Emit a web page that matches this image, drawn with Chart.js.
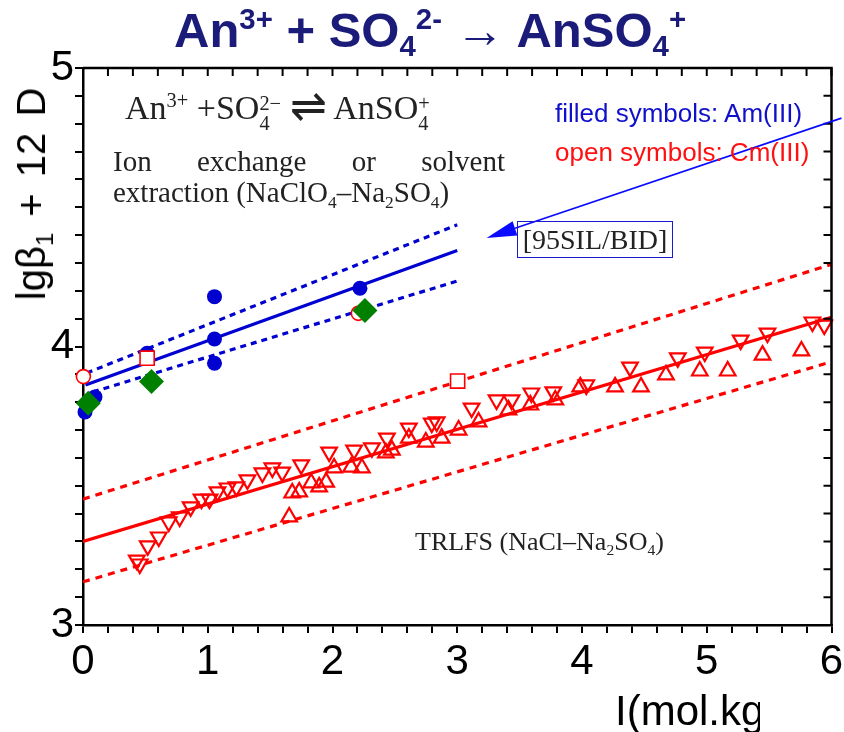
<!DOCTYPE html>
<html>
<head>
<meta charset="utf-8">
<script src="https://cdn.jsdelivr.net/npm/chart.js@4.4.1/dist/chart.umd.min.js"></script>
<style>
  body { margin: 0; background: #fff; }
  #wrap { position: relative; width: 844px; height: 732px; overflow: hidden; }
  #chart { position: absolute; left: 0; top: 0; }
  .t { position: absolute; white-space: nowrap; line-height: 1; }
  .t sup { font-size: .6em; vertical-align: 0; position: relative; top: -.6em; }
  .t sub { font-size: .6em; vertical-align: 0; position: relative; top: .35em; }
  .ss { display: inline-block; font-size: .6em; line-height: 1; vertical-align: -.55em; text-align: left; }
  .sans { font-family: 'Liberation Sans', Arial, sans-serif; }
  .serif { font-family: 'Liberation Serif', 'Times New Roman', serif; color: #222; }
  #title sub { top: .3em; }
</style>
</head>
<body>
<div id="wrap">
  <canvas id="chart" width="844" height="732"></canvas>

  <div id="title" class="t sans" style="left:174px;top:6px;font-size:49px;font-weight:bold;color:#1b1b7a">An<sup>3+</sup> + SO<sub>4</sub><sup>2-</sup> &rarr; AnSO<sub>4</sub><sup>+</sup></div>

  <div class="t sans" style="left:31px;top:194px;font-size:40px;word-spacing:5px;transform:translate(-50%,-50%) rotate(-90deg)">lg&beta;<sub>1</sub> + 12 D</div>

  <div class="t sans" style="left:615px;top:686px;width:145px;overflow:hidden;font-size:42px;line-height:1.2">I(mol.kg</div>

  <div class="t serif" style="left:125px;top:83px;font-size:34px">An<sup>3+</sup> +SO<span class="ss">2&minus;<br>4</span> <span style="font-size:1.3em;font-weight:300;position:relative;top:.05em">&#8652;</span> AnSO<span class="ss">+<br>4</span></div>

  <div class="t sans" style="left:555px;top:100px;font-size:26px;color:#1010cc">filled symbols: Am(III)</div>
  <div class="t sans" style="left:555px;top:139px;font-size:26px;color:#ff1010">open symbols: Cm(III)</div>

  <div class="t serif" style="left:113px;top:147px;width:392px;font-size:29px;text-align:justify;text-align-last:justify">Ion exchange or solvent</div>
  <div class="t serif" style="left:113px;top:178px;font-size:29px">extraction (NaClO<sub>4</sub>&ndash;Na<sub>2</sub>SO<sub>4</sub>)</div>

  <div class="t serif" style="left:517px;top:221px;width:154px;height:35px;border:1px solid #1a1ad0;font-size:28px;text-align:center;line-height:36px">[95SIL/BID]</div>

  <div class="t serif" style="left:415px;top:529px;font-size:26px">TRLFS (NaCl&ndash;Na<sub>2</sub>SO<sub>4</sub>)</div>
</div>

<script>
// ===== DATA =====
// axis ranges (I in mol/kg, lg beta1 + 12 D)
const X_MIN = 0, X_MAX = 6;
const Y_MIN = 3, Y_MAX = 5;

// Am(III) filled blue circles (ion exchange / solvent extraction)
const amX = [0.016, 0.096, 0.514, 1.054, 1.054, 1.054, 2.22];
const amY = [3.765, 3.819, 3.976, 4.179, 4.027, 3.94, 4.209];

// [95SIL/BID] green diamonds
const silX = [0.042, 0.549, 2.26];
const silY = [3.796, 3.874, 4.129];

// Cm(III) open circles and squares (extraction)
const cmCircX = [0.003, 2.207];
const cmCircY = [3.892, 4.119];
const cmSqX = [0.514, 3.003];
const cmSqY = [3.958, 3.876];

// TRLFS Cm(III), down triangles
const downX = [0.431, 0.455, 0.519, 0.607, 0.687, 0.775, 0.863, 0.95, 1.014, 1.078,
  1.158, 1.23, 1.318, 1.438, 1.518, 1.597, 1.749, 1.973, 2.173, 2.316,
  2.436, 2.612, 2.796, 2.835, 3.115, 3.315, 3.435, 3.594, 3.77, 4.034,
  4.385, 4.768, 4.984, 5.272, 5.487, 5.847, 5.942];
const downY = [3.233, 3.219, 3.284, 3.316, 3.37, 3.388, 3.424, 3.452, 3.452, 3.478,
  3.492, 3.496, 3.521, 3.546, 3.564, 3.549, 3.575, 3.621, 3.628, 3.636,
  3.671, 3.707, 3.725, 3.729, 3.779, 3.808, 3.808, 3.833, 3.837, 3.862,
  3.926, 3.959, 3.98, 4.023, 4.048, 4.088, 4.077];

// TRLFS Cm(III), up triangles
const upX = [1.653, 1.677, 1.733, 1.829, 1.893, 1.949, 2.013, 2.149, 2.236, 2.428,
  2.476, 2.612, 2.748, 2.875, 3.011, 3.171, 3.411, 3.586, 3.786, 3.986,
  4.265, 4.473, 4.673, 4.944, 5.168, 5.447, 5.759];
const upY = [3.388, 3.474, 3.478, 3.51, 3.496, 3.513, 3.564, 3.567, 3.564, 3.618,
  3.628, 3.671, 3.657, 3.671, 3.7, 3.729, 3.772, 3.79, 3.808, 3.855,
  3.855, 3.855, 3.898, 3.912, 3.912, 3.969, 3.984];

// fit lines with confidence bands
const blueFitX = [0.02, 3.0], blueFitY = [3.862, 4.345];
const blueHiX = [0.03, 3.0], blueHiY = [3.905, 4.437];
const blueLoX = [0.08, 3.0], blueLoY = [3.837, 4.235];
const redFitX = [0, 6], redFitY = [3.30, 4.105];
const redHiX = [0, 6], redHiY = [3.452, 4.295];
const redLoX = [0, 6], redLoY = [3.155, 3.945];

// ===== STYLE =====
const BLUE = '#0000d0';
const RED = '#ff0000';
const GREEN = '#008000';
const AXIS_FONT = { family: "'Liberation Sans', Arial, sans-serif", size: 42 };

const pts = (xs, ys) => xs.map((x, i) => ({ x, y: ys[i] }));
const isInt = v => Math.abs(v - Math.round(v)) < 1e-6;

function markers(xs, ys, extra) {
  return Object.assign({ data: pts(xs, ys), showLine: false, clip: false }, extra);
}

function line(xs, ys, color, dash) {
  return {
    data: pts(xs, ys), showLine: true, pointRadius: 0,
    borderColor: color, borderWidth: 3.2, borderDash: dash || [], fill: false
  };
}

// top/right frame with inward ticks, plus the arrow to [95SIL/BID]
const framePlugin = {
  id: 'frame',
  afterDraw(chart) {
    const { ctx, chartArea: a, scales: { x, y } } = chart;
    ctx.save();
    ctx.strokeStyle = '#000';
    ctx.lineWidth = 2.5;
    ctx.beginPath();
    ctx.moveTo(a.left, a.top);
    ctx.lineTo(a.right, a.top);
    ctx.lineTo(a.right, a.bottom);
    ctx.stroke();

    ctx.lineWidth = 2;
    ctx.beginPath();
    x.ticks.forEach(t => {
      const p = x.getPixelForValue(t.value);
      ctx.moveTo(p, a.top);
      ctx.lineTo(p, a.top + 8);
    });
    y.ticks.forEach(t => {
      const p = y.getPixelForValue(t.value);
      ctx.moveTo(a.right, p);
      ctx.lineTo(a.right - 8, p);
    });
    ctx.stroke();

    // arrow from the right edge to the blue fit
    const x0 = x.getPixelForValue(6.08), y0 = y.getPixelForValue(4.82);
    const x1 = x.getPixelForValue(3.235), y1 = y.getPixelForValue(4.39);
    const ang = Math.atan2(y1 - y0, x1 - x0);
    const hl = 30, hw = 7.5;
    const bx = x1 - hl * Math.cos(ang), by = y1 - hl * Math.sin(ang);
    ctx.strokeStyle = '#0a0aff';
    ctx.fillStyle = '#0a0aff';
    ctx.lineWidth = 1.6;
    ctx.beginPath();
    ctx.moveTo(x0, y0);
    ctx.lineTo(bx, by);
    ctx.stroke();
    ctx.beginPath();
    ctx.moveTo(x1, y1);
    ctx.lineTo(bx + hw * Math.sin(ang), by - hw * Math.cos(ang));
    ctx.lineTo(bx - hw * Math.sin(ang), by + hw * Math.cos(ang));
    ctx.closePath();
    ctx.fill();
    ctx.restore();
  }
};

// first dataset is drawn on top
new Chart(document.getElementById('chart'), {
  type: 'scatter',
  data: {
    datasets: [
      markers(silX, silY, { pointStyle: 'rectRot', pointRadius: 12.5, backgroundColor: GREEN, borderColor: GREEN, borderWidth: 0 }),
      markers(cmCircX, cmCircY, { pointStyle: 'circle', pointRadius: 7, backgroundColor: '#fff', borderColor: RED, borderWidth: 1.6 }),
      markers(cmSqX, cmSqY, { pointStyle: 'rect', pointRadius: 10, backgroundColor: '#fff', borderColor: RED, borderWidth: 1.6 }),
      markers(amX, amY, { pointStyle: 'circle', pointRadius: 7.5, backgroundColor: BLUE, borderColor: BLUE, borderWidth: 0 }),
      markers(downX, downY, { pointStyle: 'triangle', rotation: 180, pointRadius: 9, backgroundColor: 'rgba(0,0,0,0)', borderColor: RED, borderWidth: 2.2 }),
      markers(upX, upY, { pointStyle: 'triangle', pointRadius: 9, backgroundColor: 'rgba(0,0,0,0)', borderColor: RED, borderWidth: 2.2 }),
      line(blueFitX, blueFitY, BLUE),
      line(blueHiX, blueHiY, BLUE, [6, 5]),
      line(blueLoX, blueLoY, BLUE, [6, 5]),
      line(redFitX, redFitY, RED),
      line(redHiX, redHiY, RED, [7, 6]),
      line(redLoX, redLoY, RED, [7, 6])
    ]
  },
  options: {
    responsive: false,
    animation: false,
    devicePixelRatio: 1,
    layout: { padding: { top: 68, right: 7, left: 0, bottom: 0 } },
    plugins: { legend: { display: false }, tooltip: { enabled: false } },
    scales: {
      x: {
        type: 'linear', min: X_MIN, max: X_MAX,
        ticks: {
          stepSize: 0.2, autoSkip: false, maxRotation: 0, padding: 4,
          color: '#000', font: AXIS_FONT,
          callback: v => isInt(v) ? String(Math.round(v)) : ''
        },
        grid: { drawOnChartArea: false, drawTicks: true, tickLength: 8, color: '#000', lineWidth: 2 },
        border: { color: '#000', width: 2.5 },
        afterFit: s => { s.height = 107; s.paddingLeft = 0; s.paddingRight = 0; }
      },
      y: {
        type: 'linear', min: Y_MIN, max: Y_MAX,
        ticks: {
          stepSize: 0.1, autoSkip: false, padding: 1,
          color: '#000', font: AXIS_FONT,
          callback: v => isInt(v) ? String(Math.round(v)) : ''
        },
        grid: { drawOnChartArea: false, drawTicks: true, tickLength: 8, color: '#000', lineWidth: 2 },
        border: { color: '#000', width: 2.5 },
        afterFit: s => { s.width = 83; s.paddingTop = 0; s.paddingBottom = 0; }
      }
    }
  },
  plugins: [framePlugin]
});
</script>
</body>
</html>
